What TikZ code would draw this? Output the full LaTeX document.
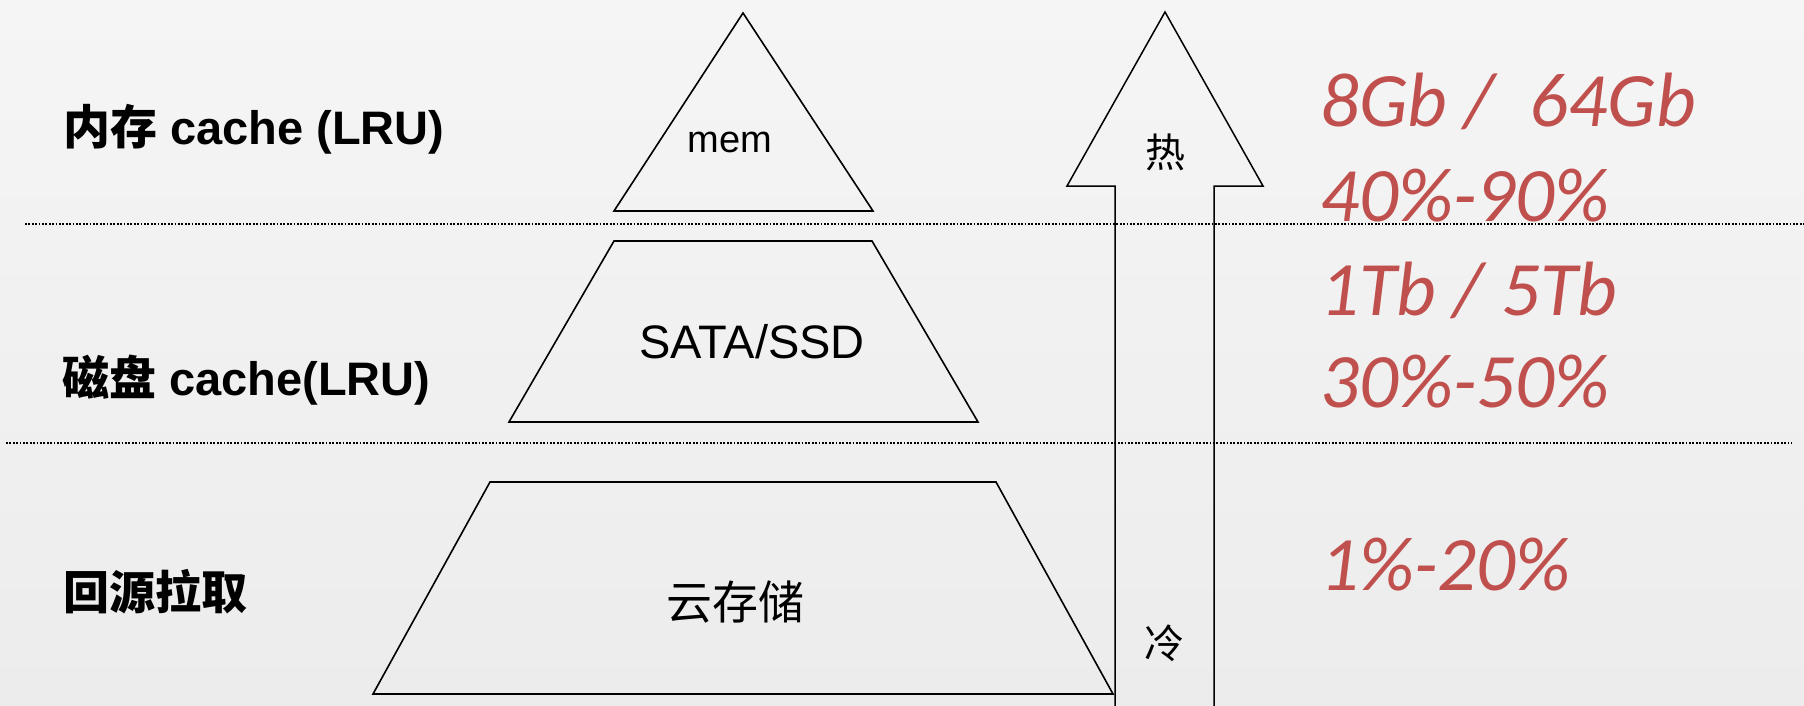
\documentclass[tikz,border=0pt]{standalone}
\usepackage{fontspec}
\setmainfont{Liberation Sans}
\newfontfamily\cjk{Noto Sans CJK SC}
\newfontfamily\redfont{Carlito}
\definecolor{accred}{HTML}{C0504D}
\begin{document}
\begin{tikzpicture}[x=1pt,y=-1pt,
  tier/.style={draw=black,line width=1.6pt,line join=miter},
  sepline/.style={draw=black,line width=2pt,dash pattern=on 1.8pt off 1.6pt},
  lefttext/.style={anchor=west,inner sep=0pt,font=\fontsize{47}{56}\selectfont\bfseries},
  tiertext/.style={inner sep=0pt,font=\fontsize{47}{56}\selectfont},
  redtext/.style={anchor=base west,inner sep=0pt,text=accred,font=\redfont\itshape\fontsize{77}{90}\selectfont},
  arrowtext/.style={inner sep=0pt,font=\cjk\fontsize{40}{48}\selectfont}]
\useasboundingbox (0,0) rectangle (1804,706);
\shade[top color={rgb,255:red,245;green,245;blue,245},bottom color={rgb,255:red,236;green,236;blue,236}] (0,0) rectangle (1804,706);

% separators
\coordinate (s1a) at (25,224);
\coordinate (s1b) at (1804,224);
\coordinate (s2a) at (6,443);
\coordinate (s2b) at (1792,443);
\draw[sepline] (s1a) -- (s1b);
\draw[sepline] (s2a) -- (s2b);

% pyramid tiers
\draw[tier] (743,13) -- (873,211) -- (614,211) -- cycle;
\draw[tier] (614,241) -- (872,241) -- (978,422) -- (509,422) -- cycle;
\draw[tier] (490,482) -- (996,482) -- (1113,694) -- (373,694) -- cycle;

\node[tiertext,font=\fontsize{38}{46}\selectfont] (mem) at (730,142) {mem};
\node[tiertext] (ssd) at (752,342) {SATA/SSD};
\node[tiertext,font=\cjk\fontsize{46}{54}\selectfont] (cloud) at (735,602) {云存储};

% left labels
\node[lefttext] (l1) at (63,129) {{\cjk\bfseries 内存} cache (LRU)};
\node[lefttext] (l2) at (62,380) {{\cjk\bfseries 磁盘} cache(LRU)};
\node[lefttext,font=\cjk\bfseries\fontsize{46}{54}\selectfont] (l3) at (63,592) {回源拉取};

% hot/cold arrow
\draw[tier,line width=1.5pt] (1115,710) -- (1115,186) -- (1067,186) -- (1165,12) -- (1263,186) -- (1214,186) -- (1214,710);
\node[arrowtext] (hot) at (1165,152) {热};
\node[arrowtext] (cold) at (1164,643) {冷};

% red figures
\node[redtext] (r1) at (1320,127) {8Gb /\ \ 64Gb};
\node[redtext] (r2) at (1320,221) {40\%-90\%};
\node[redtext] (r3) at (1320,315) {1Tb / 5Tb};
\node[redtext] (r4) at (1320,407) {30\%-50\%};
\node[redtext] (r5) at (1320,590) {1\%-20\%};
\end{tikzpicture}
\end{document}
